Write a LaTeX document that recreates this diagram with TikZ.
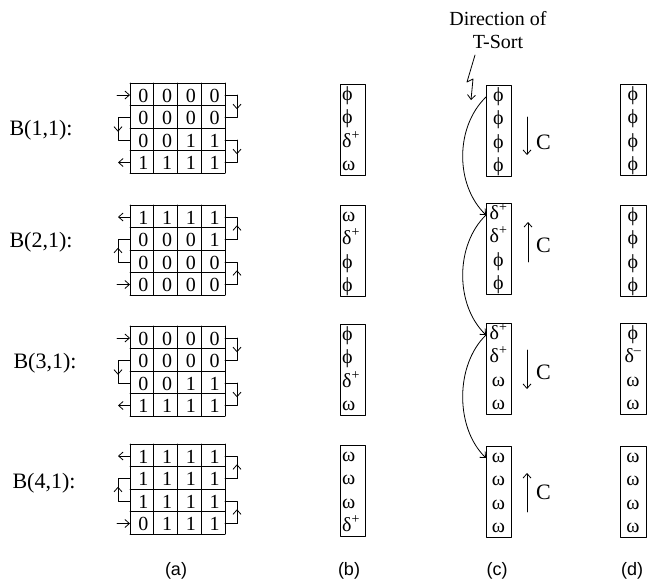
\documentclass[tikz,border=0pt]{standalone}
\usepackage{fontspec}
\setmainfont{Liberation Serif}
\newfontfamily\capfont{Liberation Sans}
\usetikzlibrary{arrows.meta}
\newcommand{\dpos}{δ\textsuperscript{+}}
\newcommand{\dneg}{δ\textsuperscript{--}}
\tikzset{
  digit/.style={font=\fontsize{20}{22}\selectfont, inner sep=0pt},
  entry/.style={font=\fontsize{20}{22}\selectfont, inner sep=0pt, anchor=base},
  blocklabel/.style={font=\fontsize{22}{24}\selectfont, inner sep=0pt},
  caption/.style={font=\capfont\fontsize{18}{20}\selectfont, inner sep=0pt, anchor=base},
  frame/.style={line width=0.9pt},
  route/.style={line width=0.8pt},
}
\begin{document}
\begin{tikzpicture}[x=1pt, y=-1pt, line join=round, line cap=round, >={Straight Barb[length=4.5pt,width=8pt]}]
\useasboundingbox (0,0) rectangle (648,581);

% (a) bit blocks
\foreach \t in {83,205,326,444}{
  \foreach \i in {0,...,4}
    \draw[frame] (130+23.75*\i,\t) -- (130+23.75*\i,\t+90);
  \foreach \j in {0,...,4}
    \draw[frame] (130,\t+22.5*\j) -- (225,\t+22.5*\j);
}
\foreach \t/\r/\vals in {83/0/{0,0,0,0}, 83/1/{0,0,0,0}, 83/2/{0,0,1,1}, 83/3/{1,1,1,1},
    205/0/{1,1,1,1}, 205/1/{0,0,0,1}, 205/2/{0,0,0,0}, 205/3/{0,0,0,0},
    326/0/{0,0,0,0}, 326/1/{0,0,0,0}, 326/2/{0,0,1,1}, 326/3/{1,1,1,1},
    444/0/{1,1,1,1}, 444/1/{1,1,1,1}, 444/2/{1,1,1,1}, 444/3/{0,1,1,1}}
  \foreach \v [count=\i] in \vals
    \node[digit] (d\t-\r-\i) at (130+23.75*\i-10.5, \t+22.5*\r+12.5) {\v};

% snake order through the rows
\foreach \t/\sa/\sb/\sc/\sd in {83/0/1/2/3, 205/3/2/1/0, 326/0/1/2/3, 444/3/2/1/0}{
  \pgfmathsetmacro{\ya}{\t+22.5*\sa+12}
  \pgfmathsetmacro{\yb}{\t+22.5*\sb+12}
  \pgfmathsetmacro{\yc}{\t+22.5*\sc+12}
  \pgfmathsetmacro{\yd}{\t+22.5*\sd+12}
  \pgfmathsetmacro{\updown}{\sb-\sa}
  \draw[route,->] (117,\ya) -- (130,\ya);
  \draw[route] (225,\ya) -| (237,\yb) -- (225,\yb);
  \draw[route,->] (237,\ya) -- (237,{(\ya+\yb)/2+3*\updown});
  \draw[route] (130,\yb) -| (118,\yc) -- (130,\yc);
  \draw[route,->] (118,\yb) -- (118,{(\yb+\yc)/2+3*\updown});
  \draw[route] (225,\yc) -| (237,\yd) -- (225,\yd);
  \draw[route,->] (237,\yc) -- (237,{(\yc+\yd)/2+3*\updown});
  \draw[route,->] (130,\yd) -- (118,\yd);
}
\node[blocklabel] (lab1) at (41,130) {B(1,1):};
\node[blocklabel] (lab2) at (41,242) {B(2,1):};
\node[blocklabel] (lab3) at (45,363) {B(3,1):};
\node[blocklabel] (lab4) at (44,483) {B(4,1):};

% (b)
\foreach \t/\list [count=\k] in {84/{ϕ,ϕ,\dpos,ω}, 205/{ω,\dpos,ϕ,ϕ}, 324/{ϕ,ϕ,\dpos,ω}, 445/{ω,ω,ω,\dpos}}{
  \draw[frame] (340,\t) rectangle (365,\t+91);
  \foreach \e [count=\i] in \list
    \node[entry, anchor=base west] (b\k-\i) at (342,\t+16+23.5*\i-23.5) {\e};
}

% (c)
\foreach \t/\list [count=\k] in {85/{ϕ,ϕ,ϕ,ϕ}, 203/{\dpos,\dpos,ϕ,ϕ}, 323/{\dpos,\dpos,ω,ω}, 446/{ω,ω,ω,ω}}{
  \draw[frame] (486,\t) rectangle (511,\t+91);
  \coordinate (c\k) at (486,\t+12);
  \foreach \e [count=\i] in \list
    \node[entry] (c\k-\i) at (498.5,\t+16+23.5*\i-23.5) {\e};
}
\draw[route,->] (c1) .. controls +(-31,30) and +(-31,-30) .. (c2);
\draw[route,->] (c2) .. controls +(-31,30) and +(-31,-30) .. (c3);
\draw[route,->] (c3) .. controls +(-31,30) and +(-31,-30) .. (c4);

\draw[route,->] (527,117) -- (527,155);
\node[blocklabel, anchor=west] (C1) at (536,142) {C};
\draw[route,->] (528,262) -- (528,222);
\node[blocklabel, anchor=west] (C2) at (536,245) {C};
\draw[route,->] (527,350) -- (527,389);
\node[blocklabel, anchor=west] (C3) at (536,372) {C};
\draw[route,->] (527,512) -- (527,473);
\node[blocklabel, anchor=west] (C4) at (536,492) {C};

\node[entry, font=\fontsize{20}{22}\selectfont] (dir1) at (498,25) {Direction of};
\node[entry, font=\fontsize{20}{22}\selectfont] (dir2) at (498,48) {T-Sort};
\draw[route,->] (475,55) -- (467,82) -- (473,79) -- (471,100);

% (d)
\foreach \t/\list [count=\k] in {84/{ϕ,ϕ,ϕ,ϕ}, 205/{ϕ,ϕ,ϕ,ϕ}, 323/{ϕ,\dneg,ω,ω}, 446/{ω,ω,ω,ω}}{
  \draw[frame] (620,\t) rectangle (646,\t+91);
  \foreach \e [count=\i] in \list
    \node[entry] (e\k-\i) at (633,\t+16+23.5*\i-23.5) {\e};
}

\node[caption] (capa) at (176,575) {(a)};
\node[caption] (capb) at (349,575) {(b)};
\node[caption] (capc) at (497,575) {(c)};
\node[caption] (capd) at (632,575) {(d)};
\end{tikzpicture}
\end{document}
